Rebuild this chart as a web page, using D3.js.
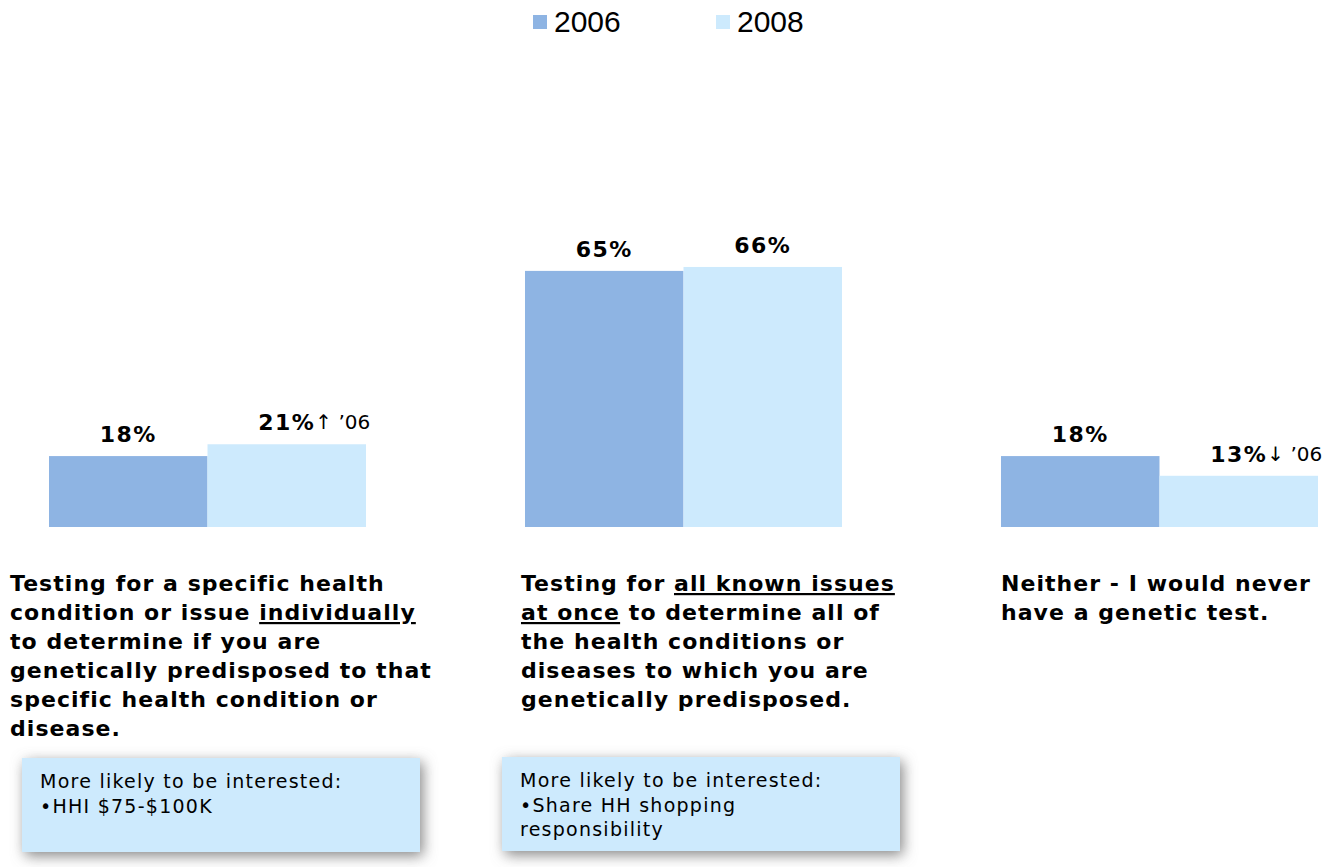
<!DOCTYPE html>
<html>
<head>
<meta charset="utf-8">
<script src="https://cdn.jsdelivr.net/npm/d3@7"></script>
<style>
  html, body { margin: 0; padding: 0; background: #fff; }
  svg { display: block; }
</style>
</head>
<body>
<svg id="chart" width="1326" height="867"></svg>
<script>
// Survey answers: preferred kind of genetic testing, 2006 vs 2008
const categories = [
  "Testing for a specific health condition or issue individually to determine if you are genetically predisposed to that specific health condition or disease.",
  "Testing for all known issues at once to determine all of the health conditions or diseases to which you are genetically predisposed.",
  "Neither - I would never have a genetic test."
];
const series = ["2006", "2008"];
const values2006 = [18, 65, 18];
const values2008 = [21, 66, 13];
// change vs. 2006 shown next to the 2008 label
const changeNotes = ["\u2191 \u201906", "", "\u2193 \u201906"];

// category label lines; [text, underlined]
const labelLines = [
  [[["Testing for a specific health", false]],
   [["condition or issue ", false], ["individually", true]],
   [["to determine if you are", false]],
   [["genetically predisposed to that", false]],
   [["specific health condition or", false]],
   [["disease.", false]]],
  [[["Testing for ", false], ["all known issues", true]],
   [["at once", true], [" to determine all of", false]],
   [["the health conditions or", false]],
   [["diseases to which you are", false]],
   [["genetically predisposed.", false]]],
  [[["Neither - I would never", false]],
   [["have a genetic test.", false]]]
];

const noteLines = [
  ["More likely to be interested:", "\u2022HHI $75-$100K"],
  ["More likely to be interested:", "\u2022Share HH shopping", "responsibility"],
  []
];

const colors = { "2006": "#8eb4e3", "2008": "#cdeafd" };
const FONT = "'DejaVu Sans', Verdana, sans-serif";

const svg = d3.select("#chart");

const defs = svg.append("defs");
const shadow = defs.append("filter").attr("id", "boxShadow")
  .attr("x", "-20%").attr("y", "-50%").attr("width", "140%").attr("height", "200%");
shadow.append("feDropShadow")
  .attr("dx", 3).attr("dy", 4).attr("stdDeviation", 7)
  .attr("flood-color", "#7a7a7a").attr("flood-opacity", 0.9);

const x0 = d3.scaleBand().domain(d3.range(categories.length))
  .range([49, 1318]).paddingInner(0.334).paddingOuter(0);
const x1 = d3.scaleBand().domain(series).range([0, x0.bandwidth()]);
const y = d3.scaleLinear().domain([0, 100]).range([527, 133]);

const rows = categories.map((c, i) => ({ i, c, v: { "2006": values2006[i], "2008": values2008[i] } }));

const groups = svg.append("g").selectAll("g").data(rows).join("g")
  .attr("transform", d => `translate(${x0(d.i)},0)`);

groups.selectAll("rect").data(d => series.map(s => ({ s, v: d.v[s] }))).join("rect")
  .attr("x", d => x1(d.s))
  .attr("y", d => y(d.v))
  .attr("width", x1.bandwidth())
  .attr("height", d => y(0) - y(d.v))
  .attr("fill", d => colors[d.s]);

// value labels
groups.each(function(d) {
  const g = d3.select(this);
  series.forEach(s => {
    const cx = x1(s) + x1.bandwidth() / 2;
    const by = y(d.v[s]) - 14;
    const lbl = g.append("text")
      .attr("x", cx).attr("y", by)
      .attr("text-anchor", "middle")
      .attr("font-family", FONT).attr("font-weight", "bold").attr("font-size", 22)
      .attr("letter-spacing", 1.5)
      .attr("fill", "#000")
      .text(d.v[s] + "%");
    if (s === "2008" && changeNotes[d.i]) {
      const w = lbl.node().getComputedTextLength();
      g.append("text")
        .attr("x", cx + w / 2).attr("y", by - 1)
        .attr("font-family", FONT).attr("font-size", 20)
        .attr("fill", "#000")
        .text(changeNotes[d.i]);
    }
  });
});

// category labels below the bars
const lineH = 29;
const labelOffset = [-39, -4, 0];
labelLines.forEach((lines, i) => {
  const t = svg.append("text")
    .attr("font-family", FONT).attr("font-weight", "bold").attr("font-size", 22)
    .attr("letter-spacing", 1.05)
    .attr("fill", "#000");
  const left = x0(i) + labelOffset[i];
  lines.forEach((segs, li) => {
    segs.forEach((seg, si) => {
      const sp = t.append("tspan").text(seg[0]);
      if (si === 0) sp.attr("x", left).attr("y", 591 + li * lineH);
      if (seg[1]) sp.attr("text-decoration", "underline");
    });
  });
});

// callout boxes
const boxX = [22, 502];
noteLines.forEach((lines, i) => {
  if (!lines.length) return;
  const bx = boxX[i], by = i === 0 ? 758 : 757;
  svg.append("rect")
    .attr("x", bx).attr("y", by).attr("width", 398).attr("height", 94)
    .attr("fill", "#cdeafd").attr("filter", "url(#boxShadow)");
  const t = svg.append("text")
    .attr("font-family", FONT).attr("font-size", 19)
    .attr("letter-spacing", 1.25).attr("fill", "#000");
  lines.forEach((ln, li) => {
    t.append("tspan").attr("x", bx + 18).attr("y", by + 30 + li * 24.5).text(ln);
  });
});

// legend
const legend = svg.append("g").attr("transform", "translate(533,0)");
series.forEach((s, i) => {
  const g = legend.append("g").attr("transform", `translate(${i * 183},0)`);
  g.append("rect").attr("x", 0).attr("y", 15).attr("width", 14).attr("height", 14).attr("fill", colors[s]);
  g.append("text").attr("x", 21).attr("y", 32)
    .attr("font-family", "'Liberation Sans', Arial, sans-serif").attr("font-size", 30)
    .attr("fill", "#000").text(s);
});
</script>
</body>
</html>
